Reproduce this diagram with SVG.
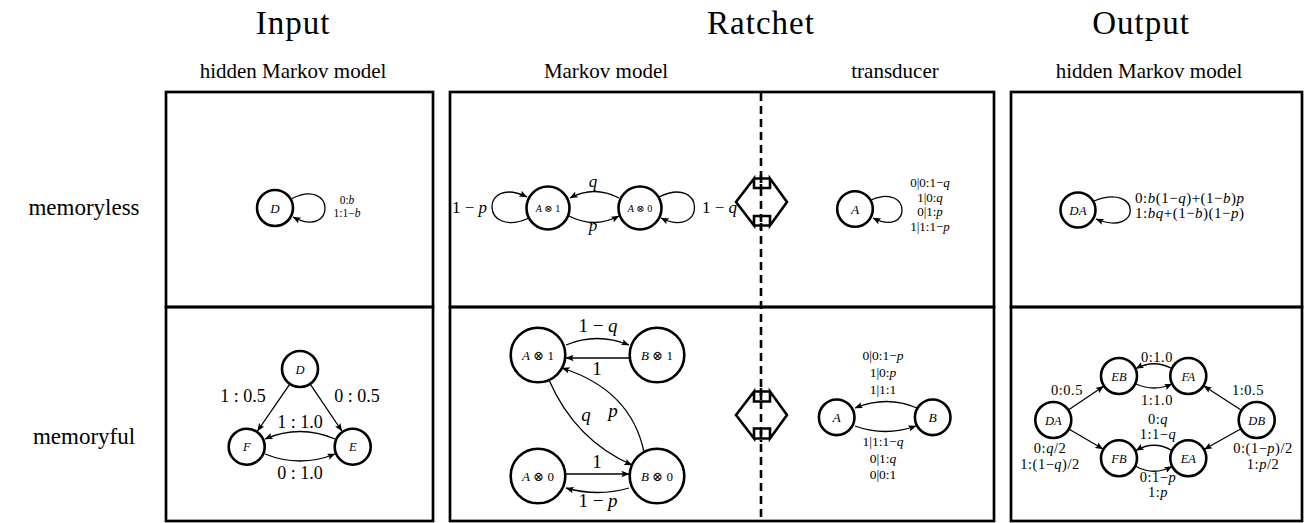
<svg xmlns="http://www.w3.org/2000/svg" width="1305" height="523" viewBox="0 0 1305 523">
<style>
.t{font-family:"Liberation Serif","DejaVu Serif",serif;fill:#000}
.it{font-style:italic}
.box{fill:none;stroke:#000;stroke-width:2.7}
.node{fill:#fff;stroke:#000;stroke-width:2.6}
.edge{fill:none;stroke:#000;stroke-width:1.3;marker-end:url(#ah)}
.dbl{fill:#fff;stroke:#000;stroke-width:2.6;stroke-linejoin:miter}
.dash{stroke:#000;stroke-width:2.6;stroke-dasharray:8 5}
.sm{font-size:14.5px;letter-spacing:0.5px}
</style>
<defs>
<marker id="ah" viewBox="0 0 10 8" refX="9.5" refY="4" markerWidth="8" markerHeight="6.4" markerUnits="userSpaceOnUse" orient="auto">
<path d="M0,0 L10,4 L0,8 L2,4 z" fill="#000"/>
</marker>
</defs>
<rect width="1305" height="523" fill="#fff"/>

<g id="headers" class="t">
<text x="293" y="34" font-size="33" text-anchor="middle" letter-spacing="1">Input</text>
<text x="761" y="34" font-size="33" text-anchor="middle" letter-spacing="1">Ratchet</text>
<text x="1141" y="34" font-size="33" text-anchor="middle" letter-spacing="1">Output</text>
<text x="293" y="78" font-size="21" text-anchor="middle">hidden Markov model</text>
<text x="606" y="78" font-size="21" text-anchor="middle">Markov model</text>
<text x="895" y="78" font-size="21" text-anchor="middle">transducer</text>
<text x="1149" y="78" font-size="21" text-anchor="middle">hidden Markov model</text>
<text x="84" y="215" font-size="23" text-anchor="middle">memoryless</text>
<text x="84" y="444" font-size="23" text-anchor="middle">memoryful</text>
</g>

<g id="panels">
<rect class="box" x="166" y="92" width="267" height="215"/>
<rect class="box" x="166" y="307" width="267" height="214"/>
<rect class="box" x="450" y="92" width="544" height="215"/>
<rect class="box" x="450" y="307" width="544" height="214"/>
<rect class="box" x="1011" y="92" width="291" height="215"/>
<rect class="box" x="1011" y="307" width="291" height="214"/>
<line class="dash" x1="761" y1="93" x2="761" y2="520"/>
</g>

<g id="connectors">
<path class="edge" d="M291,199 C336,176 336,240 293,217"/>
<path class="edge" d="M529,218 C480,240 480,174 527,197"/>
<path class="edge" d="M659,197 C706,174 706,240 661,218"/>
<path class="edge" d="M619,198 Q594,185 570,198"/>
<path class="edge" d="M569,216 Q594,229 619,216"/>
<path class="edge" d="M871,200 C912,182 912,238 873,218"/>
<path class="edge" d="M1094,201 C1142,182 1142,238 1096,219"/>
<path class="edge" d="M289.8,384.1 L257.5,431"/>
<path class="edge" d="M310.2,384.1 L341.9,431"/>
<path class="edge" d="M335,439 Q300,424 265,439"/>
<path class="edge" d="M265,454 Q300,468 335,454"/>
<path class="edge" d="M566,345 Q597,332 629,345"/>
<path class="edge" d="M629,358 L566,358"/>
<path class="edge" d="M549,380 Q575,440 632,465"/>
<path class="edge" d="M644,452 Q631,390 562,368"/>
<path class="edge" d="M566,474 L629,474"/>
<path class="edge" d="M629,488 Q598,497 566,488"/>
<path class="edge" d="M917,408 Q887,395 855,408"/>
<path class="edge" d="M855,426 Q885,437 916,426"/>
<path class="edge" d="M1068.7,409.7 L1103.6,386.3"/>
<path class="edge" d="M1069.3,429.3 L1103,449"/>
<path class="edge" d="M1241.1,410 L1203.9,386"/>
<path class="edge" d="M1240.6,429 L1204.4,449.3"/>
<path class="edge" d="M1172,368.5 Q1154,359 1136,368.5"/>
<path class="edge" d="M1136,384 Q1154,392 1172,384"/>
<path class="edge" d="M1172,450.5 Q1154,440 1136,450.5"/>
<path class="edge" d="M1136,466.5 Q1154,476 1172,466.5"/>
</g>

<g id="double-arrows">
<path class="dbl" d="M736,202 L754,178.5 L754,188 L770,188 L770,178.5 L787,202 L770,225.5 L770,216 L754,216 L754,225.5 Z"/>
<path class="dbl" d="M754,178.5 L770,178.5 M754,225.5 L770,225.5"/>
<path class="dbl" d="M736,415 L754,391.5 L754,401.5 L770,401.5 L770,391.5 L787,415 L770,438.5 L770,428.5 L754,428.5 L754,438.5 Z"/>
<path class="dbl" d="M754,391.5 L770,391.5 M754,438.5 L770,438.5"/>
<line class="dash" x1="761" y1="175" x2="761" y2="230"/>
<line class="dash" x1="761" y1="388" x2="761" y2="442"/>
</g>

<g id="edge-labels" class="t">
<text x="347" y="204" font-size="11.5" text-anchor="middle">0:<tspan class="it">b</tspan></text>
<text x="347" y="216.5" font-size="11.5" text-anchor="middle">1:1−<tspan class="it">b</tspan></text>

<text x="487" y="213" font-size="17" text-anchor="end">1 − <tspan class="it">p</tspan></text>
<text x="702" y="213" font-size="17">1 − <tspan class="it">q</tspan></text>
<text x="593" y="187" font-size="17" text-anchor="middle" class="it">q</text>
<text x="593" y="231" font-size="17" text-anchor="middle" class="it">p</text>

<text x="930" y="187" font-size="13" text-anchor="middle">0|0:1−<tspan class="it">q</tspan></text>
<text x="930" y="201.5" font-size="13" text-anchor="middle">1|0:<tspan class="it">q</tspan></text>
<text x="930" y="216" font-size="13" text-anchor="middle">0|1:<tspan class="it">p</tspan></text>
<text x="930" y="230.5" font-size="13" text-anchor="middle">1|1:1−<tspan class="it">p</tspan></text>

<text x="1135" y="203" font-size="15" letter-spacing="0.5">0:<tspan class="it">b</tspan>(1−<tspan class="it">q</tspan>)+(1−<tspan class="it">b</tspan>)<tspan class="it">p</tspan></text>
<text x="1135" y="218" font-size="15" letter-spacing="0.5">1:<tspan class="it">bq</tspan>+(1−<tspan class="it">b</tspan>)(1−<tspan class="it">p</tspan>)</text>

<text x="243" y="402" font-size="18" text-anchor="middle">1 : 0.5</text>
<text x="357" y="402" font-size="18" text-anchor="middle">0 : 0.5</text>
<text x="300" y="428" font-size="18" text-anchor="middle">1 : 1.0</text>
<text x="300" y="479" font-size="18" text-anchor="middle">0 : 1.0</text>

<text x="598" y="332" font-size="19" text-anchor="middle">1 − <tspan class="it">q</tspan></text>
<text x="597" y="375" font-size="19" text-anchor="middle">1</text>
<text x="586" y="421" font-size="19" text-anchor="middle" class="it">q</text>
<text x="613" y="417" font-size="19" text-anchor="middle" class="it">p</text>
<text x="597" y="468" font-size="19" text-anchor="middle">1</text>
<text x="598" y="507" font-size="19" text-anchor="middle">1 − <tspan class="it">p</tspan></text>

<text x="883" y="360" font-size="13.5" text-anchor="middle">0|0:1−<tspan class="it">p</tspan></text>
<text x="883" y="377" font-size="13.5" text-anchor="middle">1|0:<tspan class="it">p</tspan></text>
<text x="883" y="394" font-size="13.5" text-anchor="middle">1|1:1</text>
<text x="883" y="446" font-size="13.5" text-anchor="middle">1|1:1−<tspan class="it">q</tspan></text>
<text x="883" y="462.5" font-size="13.5" text-anchor="middle">0|1:<tspan class="it">q</tspan></text>
<text x="883" y="479" font-size="13.5" text-anchor="middle">0|0:1</text>

<text class="sm" x="1157" y="362" text-anchor="middle">0:1.0</text>
<text class="sm" x="1157" y="405" text-anchor="middle">1:1.0</text>
<text class="sm" x="1067" y="395" text-anchor="middle">0:0.5</text>
<text class="sm" x="1248" y="395" text-anchor="middle">1:0.5</text>
<text class="sm" x="1158" y="424" text-anchor="middle">0:<tspan class="it">q</tspan></text>
<text class="sm" x="1158" y="438.5" text-anchor="middle">1:1−<tspan class="it">q</tspan></text>
<text class="sm" x="1050" y="453" text-anchor="middle">0:<tspan class="it">q</tspan>/2</text>
<text class="sm" x="1050" y="468.5" text-anchor="middle">1:(1−<tspan class="it">q</tspan>)/2</text>
<text class="sm" x="1263" y="453" text-anchor="middle">0:(1−<tspan class="it">p</tspan>)/2</text>
<text class="sm" x="1263" y="468.5" text-anchor="middle">1:<tspan class="it">p</tspan>/2</text>
<text class="sm" x="1158" y="482" text-anchor="middle">0:1−<tspan class="it">p</tspan></text>
<text class="sm" x="1158" y="497" text-anchor="middle">1:<tspan class="it">p</tspan></text>
</g>

<g id="node-D1"><circle class="node" cx="275" cy="208" r="18"/><text class="t it" x="275" y="212.5" font-size="13" text-anchor="middle">D</text></g>
<g id="node-A1-top"><circle class="node" cx="548" cy="208" r="21.5"/><text class="t" x="548" y="211.5" font-size="10" text-anchor="middle"><tspan class="it">A</tspan> ⊗ 1</text></g>
<g id="node-A0-top"><circle class="node" cx="640" cy="208" r="21.5"/><text class="t" x="640" y="211.5" font-size="10" text-anchor="middle"><tspan class="it">A</tspan> ⊗ 0</text></g>
<g id="node-A-top"><circle class="node" cx="855" cy="209" r="17.8"/><text class="t it" x="855" y="213.5" font-size="13.5" text-anchor="middle">A</text></g>
<g id="node-DA-top"><circle class="node" cx="1078" cy="210" r="17.5"/><text class="t it" x="1078" y="214.5" font-size="13" text-anchor="middle">DA</text></g>

<g id="node-D2"><circle class="node" cx="300" cy="369" r="18"/><text class="t it" x="300" y="373.5" font-size="12.5" text-anchor="middle">D</text></g>
<g id="node-F"><circle class="node" cx="246.7" cy="446.7" r="18"/><text class="t it" x="246.7" y="451.2" font-size="12.5" text-anchor="middle">F</text></g>
<g id="node-E"><circle class="node" cx="352.7" cy="446.7" r="18"/><text class="t it" x="352.7" y="451.2" font-size="12.5" text-anchor="middle">E</text></g>

<g id="node-A1"><circle class="node" cx="538" cy="355" r="27.3"/><text class="t" x="538" y="359.5" font-size="13" text-anchor="middle"><tspan class="it">A</tspan> ⊗ 1</text></g>
<g id="node-B1"><circle class="node" cx="657" cy="355" r="27.3"/><text class="t" x="657" y="359.5" font-size="13" text-anchor="middle"><tspan class="it">B</tspan> ⊗ 1</text></g>
<g id="node-A0"><circle class="node" cx="538" cy="476" r="27.3"/><text class="t" x="538" y="480.5" font-size="13" text-anchor="middle"><tspan class="it">A</tspan> ⊗ 0</text></g>
<g id="node-B0"><circle class="node" cx="657" cy="476" r="27.3"/><text class="t" x="657" y="480.5" font-size="13" text-anchor="middle"><tspan class="it">B</tspan> ⊗ 0</text></g>

<g id="node-A"><circle class="node" cx="836.7" cy="417.3" r="17.8"/><text class="t it" x="836.7" y="422" font-size="13.5" text-anchor="middle">A</text></g>
<g id="node-B"><circle class="node" cx="932.7" cy="417.3" r="17.8"/><text class="t it" x="932.7" y="422" font-size="13.5" text-anchor="middle">B</text></g>

<g id="node-DA"><circle class="node" cx="1053.3" cy="420" r="18"/><text class="t it" x="1053.3" y="424.5" font-size="12.5" text-anchor="middle">DA</text></g>
<g id="node-EB"><circle class="node" cx="1119" cy="376" r="18"/><text class="t it" x="1119" y="380.5" font-size="12.5" text-anchor="middle">EB</text></g>
<g id="node-FA"><circle class="node" cx="1188.3" cy="376" r="18"/><text class="t it" x="1188.3" y="380.5" font-size="12.5" text-anchor="middle">FA</text></g>
<g id="node-DB"><circle class="node" cx="1256.7" cy="420" r="18"/><text class="t it" x="1256.7" y="424.5" font-size="12.5" text-anchor="middle">DB</text></g>
<g id="node-FB"><circle class="node" cx="1119" cy="458.3" r="18"/><text class="t it" x="1119" y="462.8" font-size="12.5" text-anchor="middle">FB</text></g>
<g id="node-EA"><circle class="node" cx="1188.3" cy="458.3" r="18"/><text class="t it" x="1188.3" y="462.8" font-size="12.5" text-anchor="middle">EA</text></g>
</svg>
